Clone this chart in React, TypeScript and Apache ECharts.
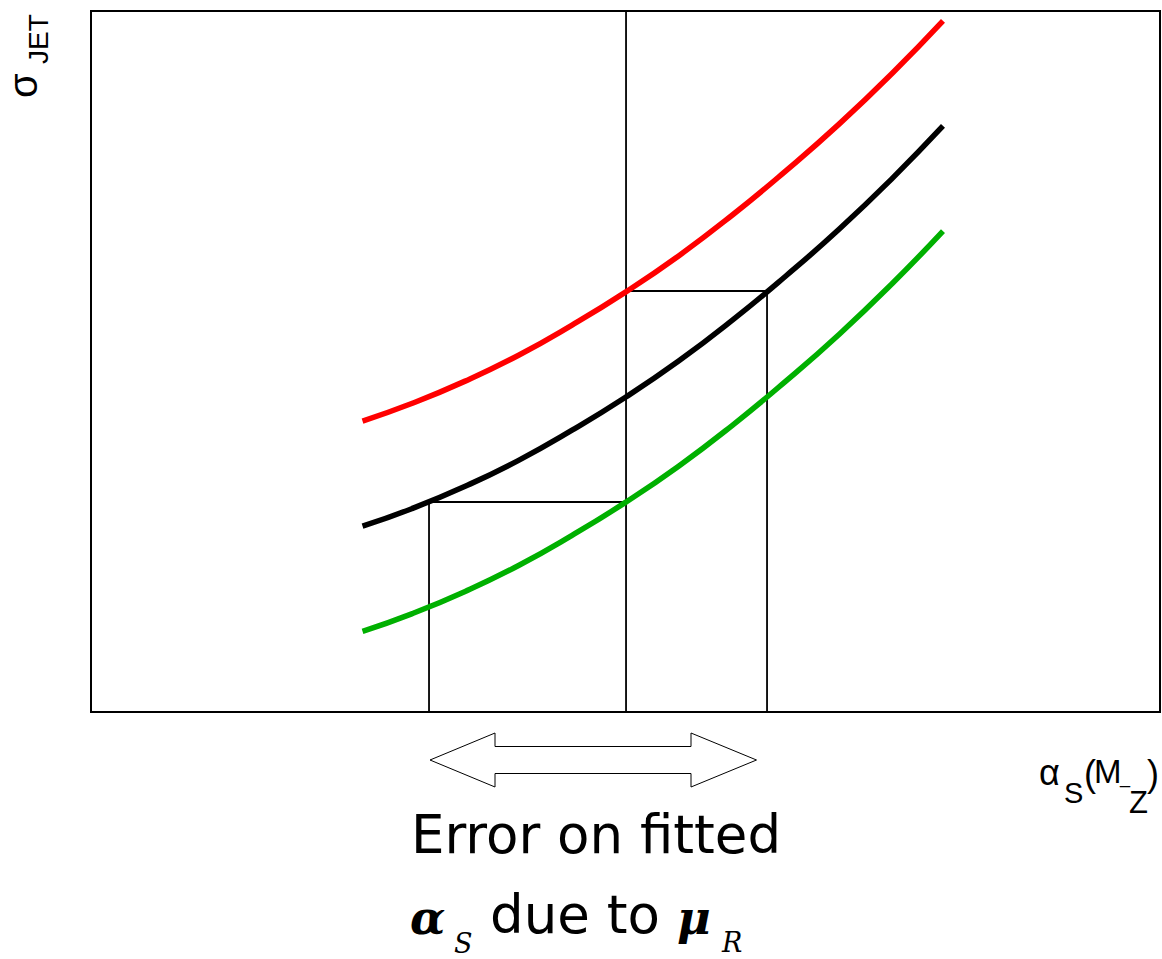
import React, { useEffect, useRef } from "react";
import * as echarts from "echarts";

// x positions (arbitrary units, axis 0..100)
const xs = [25.4, 30, 35, 40, 45, 50, 55, 60, 65, 70, 75, 79.7];
// sigma_JET curves (arbitrary units, axis 0..100)
const redVals = [41.5, 44.0, 47.2, 50.9, 55.2, 59.9, 65.1, 70.9, 77.2, 83.9, 91.2, 98.6];
const blackVals = [26.5, 29.0, 32.2, 35.9, 40.2, 44.9, 50.1, 55.9, 62.2, 68.9, 76.2, 83.6];
const greenVals = [11.5, 14.0, 17.2, 20.9, 25.2, 29.9, 35.1, 40.9, 47.2, 53.9, 61.2, 68.6];

// construction lines
const centralAlpha = 50.05;
const lowAlpha = 31.62;
const highAlpha = 63.24;
const lowSigma = 29.96;
const highSigma = 60.06;

const pairs = (vals: number[]) => xs.map((x, i) => [x, vals[i]]);

const txt = (
  text: string,
  x: number,
  y: number,
  fontSize: number,
  fontFamily: string,
  extra: any = {},
  rotation = 0
) => ({
  type: "text",
  x,
  y,
  rotation,
  silent: true,
  style: {
    text,
    fontSize,
    fontFamily,
    fontStyle: extra.fontStyle || "normal",
    fontWeight: extra.fontWeight || "normal",
    lineHeight: extra.lineHeight,
    fill: "#000",
    textAlign: "left",
    textVerticalAlign: "middle",
  },
});

export default function App() {
  const ref = useRef<HTMLDivElement>(null);
  useEffect(() => {
    if (!ref.current) return;
    const chart = echarts.init(ref.current, null, { renderer: "svg" });
    const thin = { color: "#000", width: 1.8 };
    const curve = (name: string, vals: number[], color: string) => ({
      name,
      type: "line",
      data: pairs(vals),
      smooth: true,
      symbol: "none",
      silent: true,
      lineStyle: { color, width: 5.5 },
      z: 3,
    });
    const seg = (data: number[][]) => ({
      type: "line",
      data,
      symbol: "none",
      silent: true,
      lineStyle: thin,
      z: 2,
    });
    const sans = "Liberation Sans";
    const dv = "DejaVu Sans";
    const serif = "DejaVu Serif";
    chart.setOption({
      animation: false,
      backgroundColor: "#fff",
      grid: {
        left: 91,
        top: 11,
        width: 1069,
        height: 701,
        show: true,
        borderColor: "#000",
        borderWidth: 2,
        backgroundColor: "transparent",
      },
      xAxis: { type: "value", min: 0, max: 100, show: false },
      yAxis: { type: "value", min: 0, max: 100, show: false },
      series: [
        seg([[centralAlpha, 0], [centralAlpha, 100]]),
        seg([[lowAlpha, 0], [lowAlpha, lowSigma], [centralAlpha, lowSigma]]),
        seg([[centralAlpha, highSigma], [highAlpha, highSigma], [highAlpha, 0]]),
        curve("upper", redVals, "#ff0000"),
        curve("central", blackVals, "#000000"),
        curve("lower", greenVals, "#00b000"),
      ],
      graphic: [
        {
          type: "polygon",
          silent: true,
          shape: {
            points: [
              [430, 760], [495, 733], [495, 746.5], [691, 746.5], [691, 733],
              [756.5, 760], [691, 787], [691, 773.5], [495, 773.5], [495, 787],
            ],
          },
          style: { fill: "#fff", stroke: "#000", lineWidth: 1 },
        },
        // y-axis label sigma_JET (rotated)
        txt("σ", 23, 98, 40, sans, {}, Math.PI / 2),
        txt("JET", 38.5, 64, 28, sans, {}, Math.PI / 2),
        // x-axis label alpha_S(M_Z)
        txt("α", 1039, 772.5, 36, sans),
        txt("S", 1064, 792.6, 29, sans),
        txt("(", 1084, 773.5, 36, sans),
        txt("M", 1094, 771.5, 33, sans),
        txt("_", 1120, 777, 18, sans),
        txt("Z", 1129, 802, 31, sans),
        txt(")", 1147, 773.5, 36, sans),
        // caption
        txt("Error on fitted", 411, 834.5, 53, dv),
        txt("α", 410, 918, 46, serif, { fontStyle: "italic", fontWeight: "bold" }),
        txt("S", 454, 943, 27, serif, { fontStyle: "italic", lineHeight: 24 }),
        txt("due to", 490, 914.5, 53, dv),
        txt("μ", 677, 918, 46, serif, { fontStyle: "italic", fontWeight: "bold" }),
        txt("R", 722, 942, 27, serif, { fontStyle: "italic", lineHeight: 24 }),
      ],
    });
    return () => chart.dispose();
  }, []);
  return (
    <div
      ref={ref}
      style={{ position: "absolute", left: 0, top: 0, width: 1162, height: 959 }}
    />
  );
}
